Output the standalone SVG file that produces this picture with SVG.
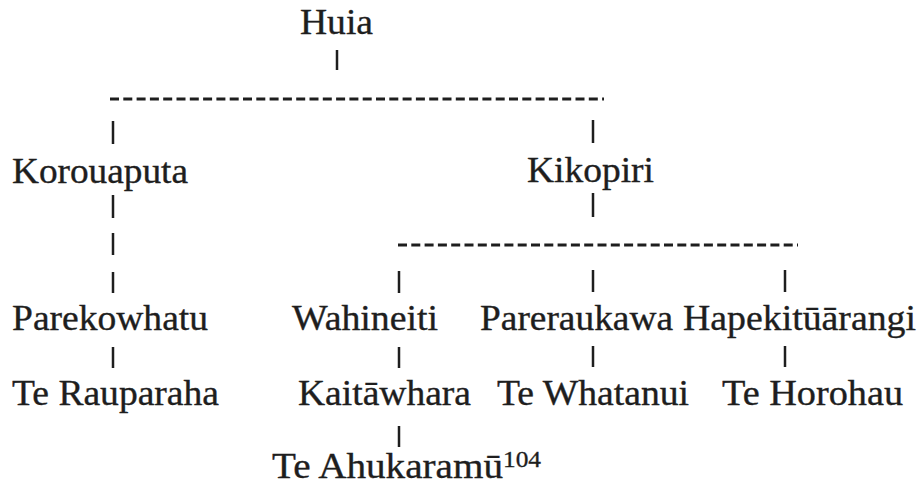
<svg xmlns="http://www.w3.org/2000/svg" width="921" height="490" viewBox="0 0 921 490">
<style>
text { font-family: "Liberation Serif", "Times New Roman", serif; font-size: 35px; fill: #1e1e1e; stroke: #1e1e1e; stroke-width: 0.35; }
.sup { font-size: 24px; }
.bar { stroke: #1e1e1e; stroke-width: 2.5; fill: none; }
.dash { stroke: #1e1e1e; stroke-width: 3.2; stroke-dasharray: 9 4.3; fill: none; }
</style>
<rect x="0" y="0" width="921" height="490" fill="#ffffff"/>
<g id="connectors">
  <line class="bar" x1="337" y1="50" x2="337" y2="70"/>
  <line class="dash" x1="110" y1="99" x2="604" y2="99"/>
  <line class="bar" x1="113" y1="121" x2="113" y2="144"/>
  <line class="bar" x1="593" y1="120" x2="593" y2="143"/>
  <line class="bar" x1="113" y1="195" x2="113" y2="218"/>
  <line class="bar" x1="113" y1="233" x2="113" y2="255"/>
  <line class="bar" x1="113" y1="272" x2="113" y2="293"/>
  <line class="bar" x1="593" y1="193" x2="593" y2="217"/>
  <line class="dash" x1="398" y1="245" x2="798" y2="245"/>
  <line class="bar" x1="399" y1="271" x2="399" y2="293"/>
  <line class="bar" x1="593" y1="270" x2="593" y2="292"/>
  <line class="bar" x1="785" y1="270" x2="785" y2="292"/>
  <line class="bar" x1="113" y1="347" x2="113" y2="368"/>
  <line class="bar" x1="399" y1="347" x2="399" y2="368"/>
  <line class="bar" x1="593" y1="346" x2="593" y2="367"/>
  <line class="bar" x1="785" y1="346" x2="785" y2="367"/>
  <line class="bar" x1="399" y1="426" x2="399" y2="447"/>
</g>
<g id="huia"><text x="300" y="34" textLength="73" lengthAdjust="spacingAndGlyphs">Huia</text></g>
<g id="korouaputa"><text x="12" y="183" textLength="176" lengthAdjust="spacingAndGlyphs">Korouaputa</text></g>
<g id="kikopiri"><text x="527" y="182" textLength="127" lengthAdjust="spacingAndGlyphs">Kikopiri</text></g>
<g id="parekowhatu"><text x="12" y="330" textLength="196" lengthAdjust="spacingAndGlyphs">Parekowhatu</text></g>
<g id="wahineiti"><text x="292" y="330" textLength="146" lengthAdjust="spacingAndGlyphs">Wahineiti</text></g>
<g id="pareraukawa"><text x="480" y="330" textLength="193" lengthAdjust="spacingAndGlyphs">Pareraukawa</text></g>
<g id="hapekituarangi"><text x="683" y="330" textLength="233" lengthAdjust="spacingAndGlyphs">Hapekitūārangi</text></g>
<g id="te-rauparaha"><text x="12" y="405" textLength="207" lengthAdjust="spacingAndGlyphs">Te Rauparaha</text></g>
<g id="kaitawhara"><text x="298" y="405" textLength="173" lengthAdjust="spacingAndGlyphs">Kaitāwhara</text></g>
<g id="te-whatanui"><text x="497" y="405" textLength="192" lengthAdjust="spacingAndGlyphs">Te Whatanui</text></g>
<g id="te-horohau"><text x="722" y="405" textLength="181" lengthAdjust="spacingAndGlyphs">Te Horohau</text></g>
<g id="te-ahukaramu"><text x="272" y="478" textLength="231" lengthAdjust="spacingAndGlyphs">Te Ahukaramū</text><text class="sup" x="503" y="467" textLength="38" lengthAdjust="spacingAndGlyphs">104</text></g>
</svg>
